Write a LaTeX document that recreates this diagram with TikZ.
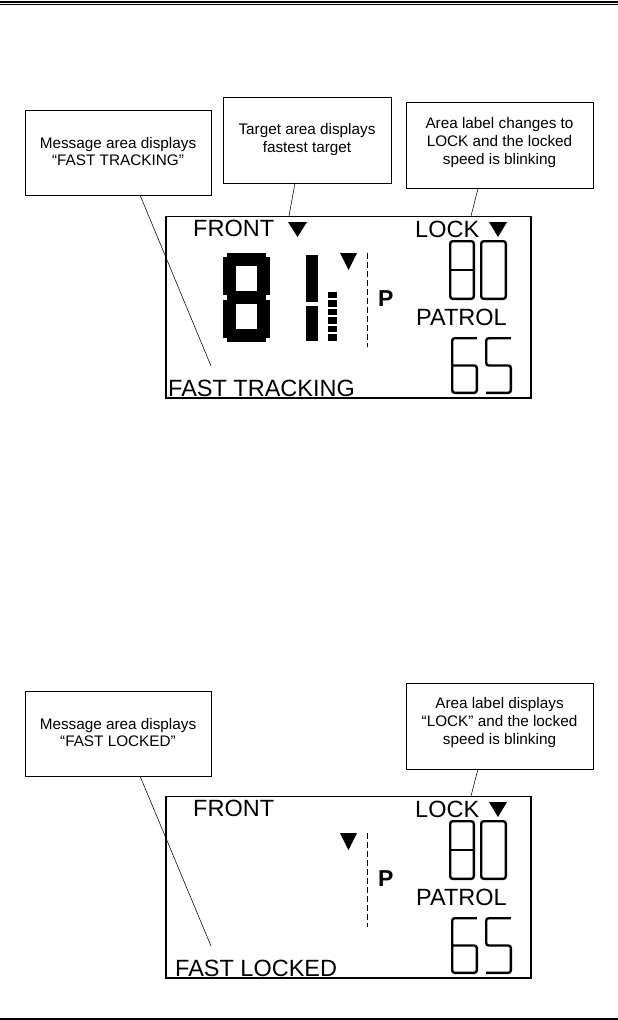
\documentclass[tikz,border=0pt]{standalone}
\usepackage{fontspec}
\setmainfont{Liberation Sans}
\begin{document}
\begin{tikzpicture}[x=1pt,y=-1pt,
  callout/.style={draw,line width=0.9pt,inner sep=0pt},
  ctext/.style={inner sep=0pt,anchor=base,font=\fontsize{15.3}{18}\selectfont},
  lcd/.style={inner sep=0pt,anchor=base west,font=\fontsize{23.5}{28}\selectfont},
  lcdbold/.style={inner sep=0pt,anchor=base west,font=\fontsize{23}{28}\selectfont\bfseries},
  leader/.style={line width=0.55pt},
  lcdframe/.style={draw,line width=1.5pt,inner sep=0pt,minimum width=365pt,minimum height=181.5pt},
  thinseg/.style={line width=2.4pt,rounded corners=2.5pt},
  dashsep/.style={line width=1pt,dash pattern=on 6pt off 3pt}
]
\useasboundingbox (0,0) rectangle (618,1020);
% page rules
\draw[line width=1.6pt] (0,2) -- (618,2);
\draw[line width=1pt] (0,4.3) -- (618,4.3);
\draw[line width=1.4pt] (0,1018.8) -- (618,1018.8);

% ================= TOP DIAGRAM =================
\node[callout,minimum width=186pt,minimum height=85pt] (b1) at (118,152.5) {};
\node[ctext] (b1t1) at (118,148.3) {Message area displays};
\node[ctext] (b1t2) at (118,165.5) {“FAST TRACKING”};

\node[callout,minimum width=168pt,minimum height=86pt] (b2) at (307,140) {};
\node[ctext] (b2t1) at (307,134.5) {Target area displays};
\node[ctext] (b2t2) at (307,152.5) {fastest target};

\node[callout,minimum width=187pt,minimum height=86pt] (b3) at (499.5,145.5) {};
\node[ctext] (b3t1) at (499.5,128.5) {Area label changes to};
\node[ctext] (b3t2) at (499.5,146.5) {LOCK and the locked};
\node[ctext] (b3t3) at (499.5,164.5) {speed is blinking};

\node[lcdframe] (d1) at (348.5,307.25) {};

\node[lcd] (front1) at (193,236) {FRONT};
\node[lcd] (lock1) at (415,237) {LOCK};
\node[lcd] (patrol1) at (416,325) {PATROL};
\node[lcd] (msg1) at (168,396) {FAST TRACKING};
\node[lcdbold] (p1) at (378,306) {P};

\coordinate (l1a) at (140,195);
\coordinate (l1b) at (211,366);
\draw[leader] (l1a) -- (l1b);
\coordinate (l2a) at (295,183);
\coordinate (l2b) at (289,216);
\draw[leader] (l2a) -- (l2b);
\coordinate (l3a) at (478,188.5);
\coordinate (l3b) at (471,216);
\draw[leader] (l3a) -- (l3b);

% triangles
\fill (288,222) -- (307,222) -- (297.5,237) -- cycle;
\fill (489,222) -- (507,222) -- (498,237) -- cycle;
\fill (340,253) -- (357,253) -- (348.5,270) -- cycle;

% big 8
\fill (227,253) rectangle (266,266);
\fill (223,257) rectangle (236,295);
\fill (257,257) rectangle (270,295);
\fill (227,291) rectangle (266,304);
\fill (223,300) rectangle (236,338);
\fill (257,300) rectangle (270,338);
\fill (227,329) rectangle (266,342);
% big 1
\fill (306,255) rectangle (318,302);
\fill (306,305.5) rectangle (318,341);
% bar graph
\foreach \k in {0,...,5} {
  \fill (327.5,{291.7+8.5*\k}) rectangle (337,{298.2+8.5*\k});
}
% dashed separator
\draw[dashsep] (367,253) -- (367,347);

% thin digits 80
\draw[thinseg] (450.2,241.2) rectangle (473.8,298.8);
\draw[thinseg] (450.2,270) -- (473.8,270);
\draw[thinseg] (481.2,241.2) rectangle (505.8,298.8);
% thin digits 65
\draw[thinseg] (476.8,338.2) -- (452.2,338.2) -- (452.2,392.8) -- (476.8,392.8) -- (476.8,365.5) -- (452.2,365.5);
\draw[thinseg] (510.8,338.2) -- (486.2,338.2) -- (486.2,365.5) -- (510.8,365.5) -- (510.8,392.8) -- (486.2,392.8);

% ================= BOTTOM DIAGRAM =================
\node[callout,minimum width=186pt,minimum height=85pt] (c1) at (118,733.5) {};
\node[ctext] (c1t1) at (118,729) {Message area displays};
\node[ctext] (c1t2) at (118,746.5) {“FAST LOCKED”};

\node[callout,minimum width=187pt,minimum height=86pt] (c3) at (499.5,726) {};
\node[ctext] (c3t1) at (499.5,708.5) {Area label displays};
\node[ctext] (c3t2) at (499.5,726.5) {“LOCK” and the locked};
\node[ctext] (c3t3) at (499.5,744.5) {speed is blinking};

\node[lcdframe] (d2) at (348.5,887.25) {};

\node[lcd] (front2) at (193,816) {FRONT};
\node[lcd] (lock2) at (415,817) {LOCK};
\node[lcd] (patrol2) at (416,905) {PATROL};
\node[lcd] (msg2) at (175,976) {FAST LOCKED};
\node[lcdbold] (p2) at (378,886) {P};

\coordinate (m1a) at (140,776);
\coordinate (m1b) at (211,946);
\draw[leader] (m1a) -- (m1b);
\coordinate (m3a) at (478,769);
\coordinate (m3b) at (471,796);
\draw[leader] (m3a) -- (m3b);

\fill (489,802) -- (507,802) -- (498,817) -- cycle;
\fill (340,833) -- (357,833) -- (348.5,850) -- cycle;
\draw[dashsep] (367,833) -- (367,927);

\draw[thinseg] (450.2,821.2) rectangle (473.8,878.8);
\draw[thinseg] (450.2,850) -- (473.8,850);
\draw[thinseg] (481.2,821.2) rectangle (505.8,878.8);
\draw[thinseg] (476.8,918.2) -- (452.2,918.2) -- (452.2,972.8) -- (476.8,972.8) -- (476.8,945.5) -- (452.2,945.5);
\draw[thinseg] (510.8,918.2) -- (486.2,918.2) -- (486.2,945.5) -- (510.8,945.5) -- (510.8,972.8) -- (486.2,972.8);
\end{tikzpicture}
\end{document}
